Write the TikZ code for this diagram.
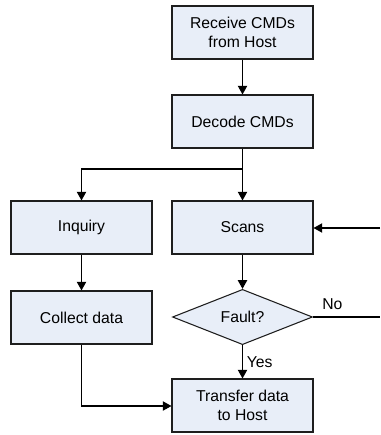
\documentclass[tikz,border=0pt]{standalone}
\usepackage{fontspec}
\setmainfont{Liberation Sans}
\usetikzlibrary{arrows.meta,shapes.geometric}
\definecolor{boxfill}{RGB}{232,238,248}
\definecolor{linec}{RGB}{30,30,30}
\tikzset{
  procbox/.style={draw=linec, line width=0.8pt, fill=boxfill, minimum width=105.75pt, minimum height=39.75pt, inner sep=0pt, align=center, font=\fontsize{11.8}{14.3}\selectfont},
  decbox/.style={draw=linec, line width=0.8pt, fill=boxfill, shape=diamond, minimum width=105pt, minimum height=40.5pt, inner sep=0pt, font=\fontsize{11.8}{14.3}\selectfont},
  conn/.style={draw=black, line width=0.8pt, -{Triangle[length=6.5pt,width=7pt]}},
  plainline/.style={draw=black, line width=0.8pt},
  lbl/.style={font=\fontsize{11.8}{14.3}\selectfont, inner sep=0pt}
}
\begin{document}
\begin{tikzpicture}[x=0.75pt,y=-0.75pt]
\useasboundingbox (0,0) rectangle (380,435);
\node[procbox] (recv) at (242.5,32.5) {Receive CMDs\\from Host};
\node[procbox] (dec) at (242.5,121.5) {Decode CMDs};
\node[procbox] (inq) at (81.5,227.5) {Inquiry};
\node[procbox] (scan) at (242.5,227.5) {Scans};
\node[procbox] (coll) at (81.5,317.5) {Collect data};
\node[decbox] (fault) at (242.5,317) {Fault?};
\node[procbox] (xfer) at (242.5,405.5) {Transfer data\\to Host};
\coordinate (split) at (242.5,169);
\coordinate (inR) at (380,228);
\coordinate (outR) at (380,317);
\coordinate (bend) at (81.5,406);
\draw[conn] (recv) -- (dec);
\draw[conn] (dec) -- (scan);
\draw[conn] (split) -| (inq);
\draw[conn] (inq) -- (coll);
\draw[conn] (scan) -- (fault);
\draw[conn] (fault) -- (xfer);
\draw[conn] (inR) -- (scan.east |- inR);
\draw[plainline] (fault.east) -- (outR);
\draw[conn] (coll.south) -- (bend) -- (xfer.west |- bend);
\node[lbl, anchor=west] (no) at (322,304) {No};
\node[lbl, anchor=west] (yes) at (246.5,362) {Yes};
\end{tikzpicture}
\end{document}
